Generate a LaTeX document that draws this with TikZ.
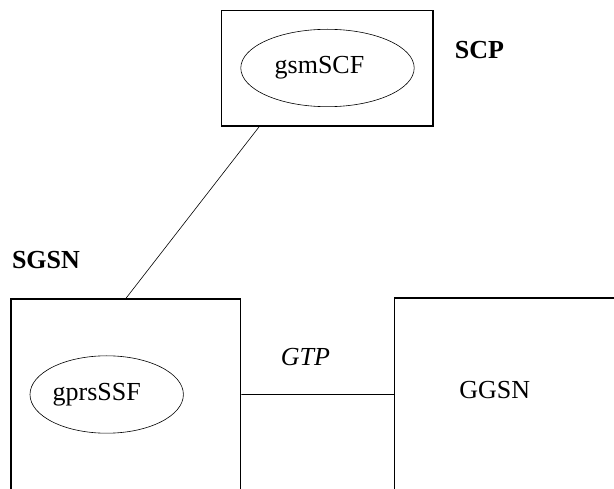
\documentclass[tikz,border=0pt]{standalone}
\usepackage{fontspec}
\setmainfont{Liberation Serif}
\usepackage{tikz}
\usetikzlibrary{calc,shapes}
\tikzset{box/.style={rectangle,draw,line width=1.2pt,inner sep=0pt},fn/.style={ellipse,draw,line width=.6pt,inner sep=0pt,font=\fontsize{26}{30}\selectfont},nm/.style={inner sep=0pt,font=\fontsize{26}{30}\selectfont\bfseries},txt/.style={inner sep=0pt,font=\fontsize{26}{30}\selectfont}}

\begin{document}
\begin{tikzpicture}[x=1pt,y=-1pt]
\useasboundingbox (0,0) rectangle (614,489);
\clip (0,0) rectangle (614,489);
\node[box,minimum width=211.3pt,minimum height=115.3pt] (scp) at (327.3,68.3) {};
\node[fn,minimum width=173.4pt,minimum height=77.4pt] (gsmscf) at (327.5,68) {gsmSCF\hspace*{16pt}};
\node[nm] (scpname) at (479.5,50) {SCP};
\node[box,minimum width=229.7pt,minimum height=221pt] (sgsn) at (125.9,409.5) {};
\node[fn,minimum width=153.4pt,minimum height=77.4pt] (gprsssf) at (106.7,394.5) {gprsSSF\hspace*{20pt}};
\node[nm] (sgsnname) at (46,260) {SGSN};
\node[box,minimum width=245.3pt,minimum height=222pt] (ggsn) at (517.4,409) {};
\node[txt] (ggsnname) at (494.7,390) {GGSN};
\node[txt,font=\fontsize{26}{30}\selectfont\itshape] (gtp) at (305.5,356.7) {GTP};
\draw[line width=.6pt] ($(scp.south west)!.18!(scp.south east)$) -- (sgsn.north)
(sgsn.east |- gprsssf) -- (ggsn.west |- gprsssf);
\end{tikzpicture}
\end{document}
